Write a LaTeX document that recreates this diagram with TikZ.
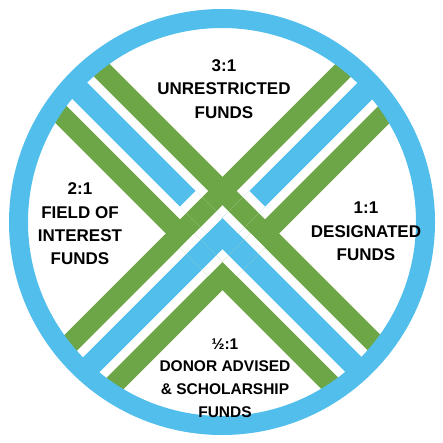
\documentclass[tikz,border=0pt]{standalone}
\usepackage{fontspec}
\setmainfont{Liberation Sans}
\usetikzlibrary{calc}
\definecolor{ringblue}{HTML}{52BEEC}
\definecolor{bandgreen}{HTML}{6CA646}
\tikzset{
  greenband/.style={draw=bandgreen, line width=20pt},
  blueband/.style={draw=ringblue, line width=22pt},
  ringline/.style={draw=ringblue, line width=19pt},
  lbl/.style={font=\bfseries\fontsize{17}{23.3}\selectfont, align=center, text=black, inner sep=0pt},
  lblsmall/.style={font=\bfseries\fontsize{15.5}{22.7}\selectfont, align=center, text=black, inner sep=0pt},
}
% #1 crossing, #2 half size across "\" bands, #3 half size across "/" bands, #4 over band drawing
\newcommand\weavepatch[4]{%
  \begin{scope}
    \clip ($(#1)+({(#2+#3)*0.70711},{(#3-#2)*0.70711})$)
       -- ($(#1)+({(#3-#2)*0.70711},{(#2+#3)*0.70711})$)
       -- ($(#1)+({-(#2+#3)*0.70711},{(#2-#3)*0.70711})$)
       -- ($(#1)+({(#2-#3)*0.70711},{-(#2+#3)*0.70711})$) -- cycle;
    \fill[white] (#1) circle[radius=40];
    #4
  \end{scope}}
\begin{document}
\begin{tikzpicture}[x=1pt,y=-1pt]
\useasboundingbox (0,0) rectangle (442,443);
% band end points
\coordinate (G1a) at (-56.29,-87.71);  \coordinate (G1b) at (543.71,512.29);
\coordinate (Ba)  at (-77.5,-66.5);    \coordinate (Bb)  at (522.5,533.5);
\coordinate (G2a) at (-98.71,-45.29);  \coordinate (G2b) at (501.29,554.71);
\coordinate (H1a) at (-98.71,512.29);  \coordinate (H1b) at (501.29,-87.71);
\coordinate (Ca)  at (-77.5,533.5);    \coordinate (Cb)  at (522.5,-66.5);
\coordinate (H2a) at (-56.29,554.71);  \coordinate (H2b) at (543.71,-45.29);
% crossings of green with blue
\coordinate (xG1C)  at (243.71,212.29);
\coordinate (xBH1)  at (201.29,212.29);
\coordinate (xBH2)  at (243.71,254.71);
\coordinate (xG2C)  at (201.29,254.71);
\coordinate (ctr) at (222,222);
\begin{scope}
  \clip (ctr) circle[radius=205];
  \draw[blueband] (Ba) -- (Bb);
  \draw[blueband] (Ca) -- (Cb);
  \draw[greenband] (G1a) -- (G1b);
  \draw[greenband] (G2a) -- (G2b);
  \draw[greenband] (H1a) -- (H1b);
  \draw[greenband] (H2a) -- (H2b);
  % over / under
  \weavepatch{xBH1}{11}{19}{\draw[greenband] (H1a) -- (H1b);}
  \weavepatch{xG1C}{19}{11}{\draw[greenband] (G1a) -- (G1b);}
  \weavepatch{xG2C}{10}{20}{\draw[blueband] (Ca) -- (Cb);}
  \weavepatch{xBH2}{20}{10}{\draw[blueband] (Ba) -- (Bb);}
\end{scope}
\draw[ringline] (ctr) circle[radius=203.5];
\node[lbl] (top) at (224,89) {3:1\\UNRESTRICTED\\FUNDS};
\node[lbl] (left) at (80,224) {2:1\\FIELD OF\\INTEREST\\FUNDS};
\node[lbl] (right) at (366,231.5) {1:1\\DESIGNATED\\FUNDS};
\node[lblsmall] (bottom) at (225,378) {½:1\\DONOR ADVISED\\\& SCHOLARSHIP\\FUNDS};
\end{tikzpicture}
\end{document}
